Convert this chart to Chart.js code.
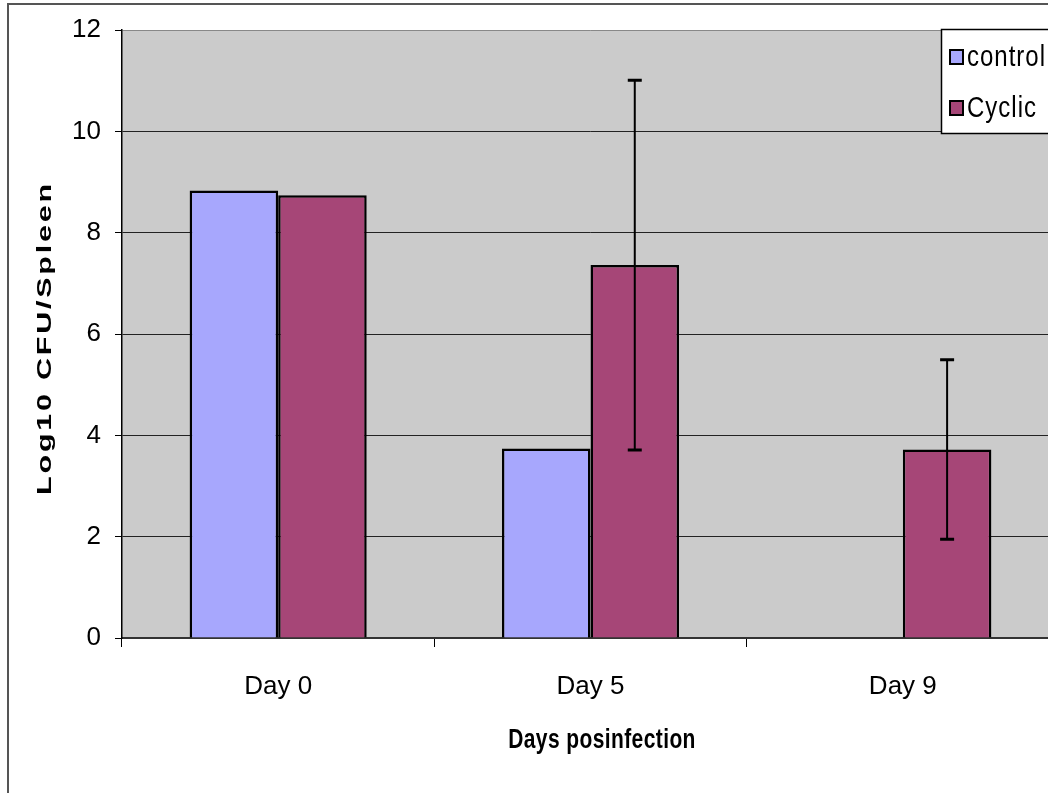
<!DOCTYPE html>
<html>
<head>
<meta charset="utf-8">
<title>Log10 CFU/Spleen</title>
<script src="https://cdn.jsdelivr.net/npm/chart.js@4.4.1/dist/chart.umd.min.js"></script>
<style>
    html, body { margin: 0; padding: 0; background: #fff; overflow: hidden; }
    #wrap { width: 1048px; height: 793px; overflow: hidden; position: relative; }
    canvas { display: block; }
</style>
</head>
<body>
<div id="wrap"><canvas id="chartCfu" width="1070" height="793"></canvas></div>
<script>
const days = ['Day 0', 'Day 5', 'Day 9'];
const seriesNames = ['control', 'Cyclic'];
const controlValues = [8.83, 3.74, null];
const cyclicValues = [8.74, 7.36, 3.72];
const controlErrors = [null, null, null];
const cyclicErrors = [null, 3.65, 1.77];
const yTicks = [0, 2, 4, 6, 8, 10, 12];
const yTitle = 'Log10 CFU/Spleen';
const xTitle = 'Days posinfection';

const sans = '"Liberation Sans", Arial, sans-serif';

document.addEventListener('DOMContentLoaded', () => {
    const ctx = document.getElementById('chartCfu');

    // white page, outer frame and grey plot area
    const backdrop = {
        id: 'backdrop',
        beforeDraw(chart) {
            const c = chart.ctx;
            const a = chart.chartArea;
            c.save();
            c.fillStyle = '#fff';
            c.fillRect(0, 0, chart.width, chart.height);
            c.strokeStyle = '#555';
            c.lineWidth = 2;
            c.strokeRect(8, 4, chart.width + 40, chart.height + 40);
            c.fillStyle = '#cbcbcb';
            c.fillRect(a.left, a.top, a.right - a.left, a.bottom - a.top);
            c.restore();
        }
    };

    const errorBars = {
        id: 'errorBars',
        afterDatasetsDraw(chart) {
            const c = chart.ctx;
            const y = chart.scales.y;
            chart.data.datasets.forEach((ds, i) => {
                if (!ds.errors) return;
                chart.getDatasetMeta(i).data.forEach((bar, j) => {
                    const e = ds.errors[j];
                    const v = ds.data[j];
                    if (e == null || v == null) return;
                    const top = y.getPixelForValue(v + e);
                    const bot = y.getPixelForValue(v - e);
                    c.save();
                    c.strokeStyle = '#000';
                    c.lineWidth = 2;
                    c.beginPath();
                    c.moveTo(bar.x, top);
                    c.lineTo(bar.x, bot);
                    c.stroke();
                    c.lineWidth = 3;
                    c.beginPath();
                    c.moveTo(bar.x - 7, top);
                    c.lineTo(bar.x + 7, top);
                    c.moveTo(bar.x - 7, bot);
                    c.lineTo(bar.x + 7, bot);
                    c.stroke();
                    c.restore();
                });
            });
        }
    };

    // axis titles and the boxed legend in the top right corner
    const labels = {
        id: 'labels',
        afterDraw(chart) {
            const c = chart.ctx;
            c.save();
            c.fillStyle = '#000';
            c.textAlign = 'center';
            c.textBaseline = 'middle';

            c.save();
            c.translate(602, 740);
            c.scale(1, 1.35);
            c.font = 'bold 21px ' + sans;
            c.letterSpacing = '0.4px';
            c.fillText(xTitle, 0, 0);
            c.restore();

            c.save();
            c.translate(45, 338);
            c.rotate(-Math.PI / 2);
            c.scale(1.45, 1);
            c.font = 'bold 21px ' + sans;
            const w = c.measureText(yTitle).width;
            const gap = (311 / 1.45 - w) / (yTitle.length - 1);
            c.letterSpacing = Math.max(gap, 0).toFixed(2) + 'px';
            c.fillText(yTitle, 0, 0);
            c.restore();

            const x0 = 941, y0 = 29, h = 104;
            c.fillStyle = '#fff';
            c.fillRect(x0, y0, chart.width - x0 + 10, h);
            c.strokeStyle = '#000';
            c.lineWidth = 1.5;
            c.strokeRect(x0 + 0.5, y0 + 0.5, chart.width, h);
            c.textAlign = 'left';
            c.letterSpacing = '1px';
            chart.data.datasets.forEach((ds, i) => {
                const cy = 57 + i * 51;
                c.fillStyle = ds.backgroundColor;
                c.fillRect(950, cy - 7, 13, 14);
                c.strokeStyle = '#000';
                c.lineWidth = 2;
                c.strokeRect(950, cy - 7, 13, 14);
                c.save();
                c.translate(967, cy + 1);
                c.scale(1, 1.25);
                c.fillStyle = '#000';
                c.font = '24px ' + sans;
                c.fillText(ds.label, 0, 0);
                c.restore();
            });
            c.restore();
        }
    };

    new Chart(ctx, {
        type: 'bar',
        data: {
            labels: days,
            datasets: [{
                label: seriesNames[0],
                data: controlValues,
                errors: controlErrors,
                backgroundColor: '#a7a7fd',
                borderColor: '#000',
                borderWidth: 2.5,
                borderSkipped: 'bottom'
            }, {
                label: seriesNames[1],
                data: cyclicValues,
                errors: cyclicErrors,
                backgroundColor: '#a64677',
                borderColor: '#000',
                borderWidth: 2.5,
                borderSkipped: 'bottom'
            }]
        },
        options: {
            responsive: false,
            animation: false,
            layout: {
                padding: { left: 0, right: 11, top: 30, bottom: 0 }
            },
            datasets: {
                bar: {
                    categoryPercentage: 0.567,
                    barPercentage: 1
                }
            },
            plugins: {
                legend: { display: false },
                tooltip: { enabled: false }
            },
            scales: {
                x: {
                    afterFit(scale) { scale.height = 155; },
                    grid: {
                        drawOnChartArea: false,
                        drawTicks: true,
                        tickLength: 9,
                        color: '#000',
                        lineWidth: 1
                    },
                    border: { color: '#333', width: 2 },
                    ticks: {
                        color: '#000',
                        padding: 24,
                        font: { family: sans, size: 26 }
                    }
                },
                y: {
                    min: 0,
                    max: 12,
                    afterFit(scale) { scale.width = 122; },
                    afterBuildTicks(scale) {
                        scale.ticks = yTicks.map(v => ({ value: v }));
                    },
                    grid: {
                        color: c => (c.tick && c.tick.value === 12 ? '#888' : '#222'),
                        lineWidth: 1,
                        drawTicks: true,
                        tickLength: 7,
                        tickColor: '#000'
                    },
                    border: { color: '#000', width: 1.5 },
                    ticks: {
                        color: '#000',
                        padding: 14,
                        font: { family: sans, size: 26 }
                    }
                }
            }
        },
        plugins: [backdrop, errorBars, labels]
    });
});
</script>
</body>
</html>
